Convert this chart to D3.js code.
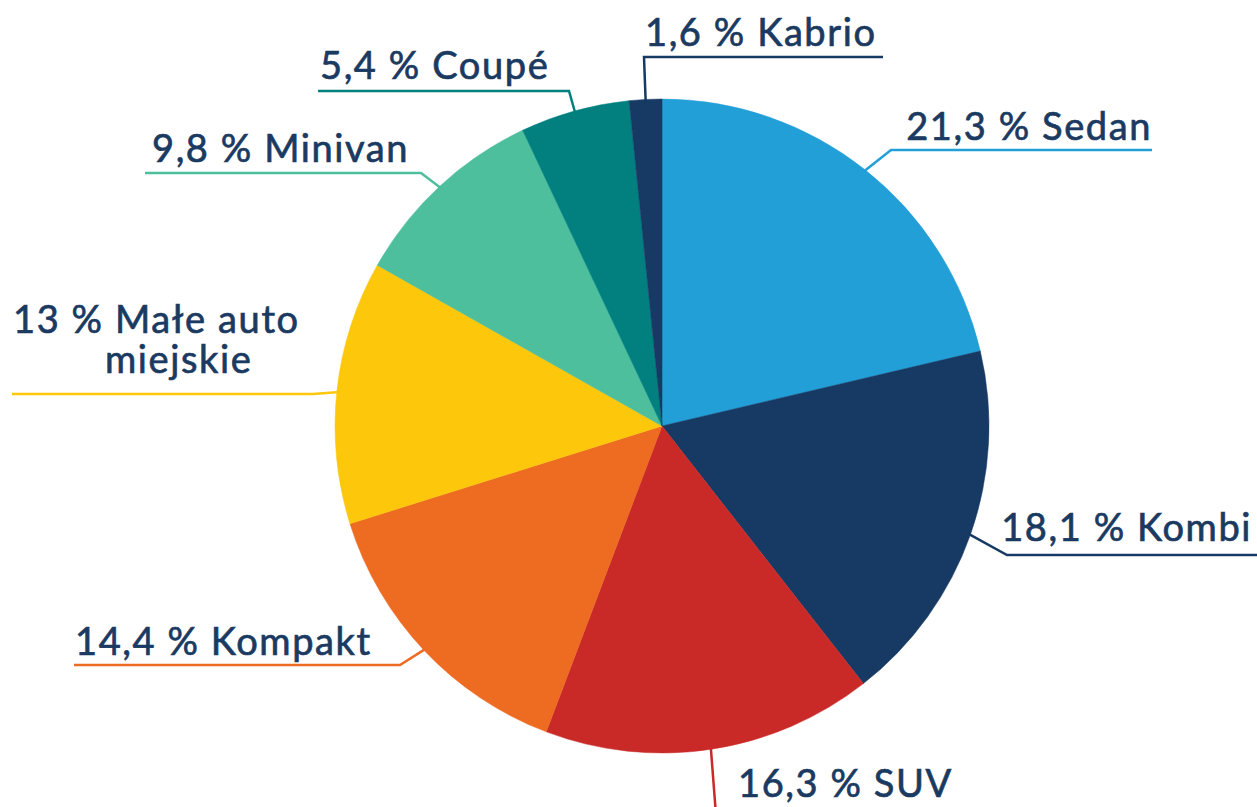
<!DOCTYPE html>
<html>
<head>
<meta charset="utf-8">
<script src="https://cdn.jsdelivr.net/npm/d3@7"></script>
<style>
  body { margin: 0; background: #fff; }
  text { font-family: Lato, "Open Sans", sans-serif; fill: #1b3a61; stroke: #1b3a61; stroke-width: 0.7px; }
</style>
</head>
<body>
<script>
// width and height of the canvas
var w = 1257;
var h = 807;

// chart data: share of body types (%), clockwise from 12 o'clock
var categories = ["Sedan", "Kombi", "SUV", "Kompakt", "Małe auto miejskie", "Minivan", "Coupé", "Kabrio"];
var values = [21.3, 18.1, 16.3, 14.4, 13, 9.8, 5.4, 1.6];
var valueLabels = ["21,3", "18,1", "16,3", "14,4", "13", "9,8", "5,4", "1,6"];
var colors = ["#239fd8", "#163a63", "#c92a28", "#ee6b22", "#fdc70c", "#4ebf9c", "#028080", "#163a63"];

// label placement: elbow of the leader line, end of the underline, text position
var labelLayout = [
  { ex: 891, ey: 150, endX: 1152, tx: 1152, ty: 140, anchor: "end" },
  { ex: 1007, ey: 555, endX: 1257, tx: 1252, ty: 541, anchor: "end" },
  { ex: 716, ey: 815, endX: 716, tx: 738, ty: 797, anchor: "start" },
  { ex: 400, ey: 665, endX: 74, tx: 75, ty: 655, anchor: "start" },
  { ex: 313, ey: 394, endX: 12, tx: 13, ty: 333, anchor: "start", lines: ["13 % Małe auto", "miejskie"], line2x: 105 },
  { ex: 421, ey: 173, endX: 145, tx: 152, ty: 162, anchor: "start" },
  { ex: 569, ey: 91, endX: 318, tx: 320, ty: 79, anchor: "start" },
  { ex: 644, ey: 57, endX: 883, tx: 645, ty: 46, anchor: "start" }
];

var cx = 662, cy = 426, r = 327;

var svg = d3.select("body")
  .append("svg")
  .attr("width", w)
  .attr("height", h);

// full circle (values add up to 99.9 because of rounding)
var pie = d3.pie()
  .sort(null)
  .value(function(d) { return d; });

var arcs = pie(values);

var arc = d3.arc()
  .innerRadius(0)
  .outerRadius(r);

var g = svg.append("g").attr("transform", "translate(" + cx + "," + cy + ")");

g.selectAll("path.slice")
  .data(arcs)
  .enter()
  .append("path")
  .attr("class", "slice")
  .attr("d", arc)
  .attr("fill", function(d, i) { return colors[i]; })
  .attr("stroke", function(d, i) { return colors[i]; })
  .attr("stroke-width", 0.5);

// leader lines: from the middle of each slice's rim to the elbow, then under the label
var line = d3.line();
svg.selectAll("path.leader")
  .data(arcs)
  .enter()
  .append("path")
  .attr("class", "leader")
  .attr("d", function(d, i) {
    var a = (d.startAngle + d.endAngle) / 2;
    var lay = labelLayout[i];
    var sx = cx + (r - 3) * Math.sin(a);
    var sy = cy - (r - 3) * Math.cos(a);
    return line([[sx, sy], [lay.ex, lay.ey], [lay.endX, lay.ey]]);
  })
  .attr("fill", "none")
  .attr("stroke", function(d, i) { return colors[i]; })
  .attr("stroke-width", 2.5);

// labels (the two-line label is drawn as two text elements)
var labelRows = [];
labelLayout.forEach(function(lay, i) {
  if (lay.lines) {
    labelRows.push({ text: lay.lines[0], x: lay.tx, y: lay.ty, anchor: lay.anchor });
    labelRows.push({ text: lay.lines[1], x: lay.line2x, y: lay.ty + 40, anchor: lay.anchor });
  } else {
    labelRows.push({ text: valueLabels[i] + " % " + categories[i], x: lay.tx, y: lay.ty, anchor: lay.anchor });
  }
});

svg.selectAll("text.label")
  .data(labelRows)
  .enter()
  .append("text")
  .attr("class", "label")
  .attr("x", function(d) { return d.x; })
  .attr("y", function(d) { return d.y; })
  .attr("text-anchor", function(d) { return d.anchor; })
  .style("font-size", "38px")
  .style("letter-spacing", "1.6px")
  .text(function(d) { return d.text; });
</script>
</body>
</html>
